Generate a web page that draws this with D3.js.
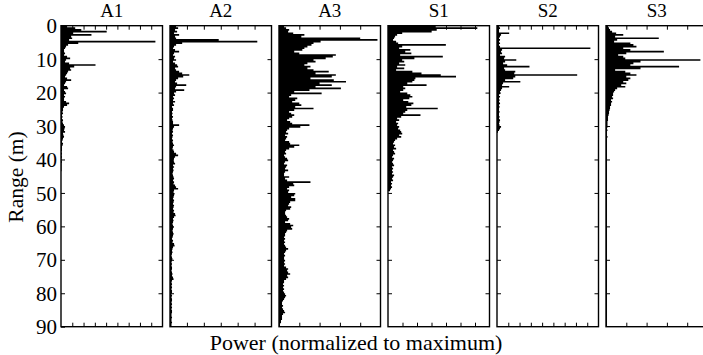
<!DOCTYPE html>
<html>
<head>
<meta charset="utf-8">
<script src="https://cdn.jsdelivr.net/npm/d3@7"></script>
<style>
  body { margin: 0; background: #fff; }
  svg { display: block; }
  text { font-family: "Liberation Serif", "Times New Roman", serif; fill: #000; }
</style>
</head>
<body>
<svg id="chart" width="703" height="355"></svg>
<script>
// Panel names and number of (unlabelled) power tick intervals per panel
const panelNames = ["A1", "A2", "A3", "S1", "S2", "S3"];
const powerTickIntervals = [9, 6, 5, 7, 9, 5];

// Range axis
const rangeStep = 0.5;                      // m per range bin
const rangeTicks = [0, 10, 20, 30, 40, 50, 60, 70, 80, 90];

// Power profiles, % of full scale, one value per 0.5 m range bin starting at 0 m
const powerA1 = [6,14,20,45,12,30,10,11,8,93,17,7,5,4,3,3,4,3,6,9,
  5,4,8,34,13,9,10,7,6,5,4,6,10,5,4,3,6,7,3,4,
  5,3,4,3,3,5,8,6,3,2,2,1.5,2,1,1.5,1,2,1.5,2,3,
  4,3.5,3,4,2,2.5,3,2,1.5,1,2,1.5,1,1,1,0.5,1,0.5,1,0.5,
  0.5,1,0.5,0.5,0.5,0.5,0.5];

const powerA2 = [6,8,5,7,4,9,5,6,48,86,12,6,4,3,5,9,4,3,5,4,
  6,3,5,7,8,5,6,9,12,19,13,8,6,5,7,16,6,5,14,6,
  4,5,3,4,3,5,3,4,2,3,3,2,2.5,2,3,2,2.5,3,3,9,
  4,3,2.5,3,2,3,2.5,2,3,2.5,3,4,3,2.5,3.5,4,6,8,5,4,
  3.5,4,5,3,4,3,3.5,3,2.5,3,3.5,4,3,4,3.5,5,6,8,4,3.5,
  4.5,4,3.5,3,4,3.5,3,4,3.5,3,4,3.5,5,5.5,4,3,3.5,3,2.5,3,
  3.5,3,2.5,3,3.5,3,2.5,2,3,2.5,4,4.5,3,2.5,2,2.5,2,1.5,2,2.5,
  2,1.5,2,1.5,2,2,1.5,2,2.5,2,3,3.5,2,1.5,2,1.5,2,1.5,2,2,
  1.5,2,1.5,2,2,1.5,2,1.5,2,1.5,2,2,1.5,1.5,2,1.5,1.5,2,1.5,1.5];

const powerA3 = [5,7,10,9,14,25,22,80,97,41,34,32,28,25,23,15,20,56,53,46,
  34,36,28,25,31,28,34,49,36,56,52,31,54,66,40,52,36,61,30,15,
  42,12,10,18,16,13,20,22,16,34,15,10,12,15,13,10,8,11,13,30,
  21,10,8,7,9,6,8,7,6,10,11,20,15,10,7,6,7,5,6,8,
  9,6,5,8,7,6,9,6,5,5,10,6,8,31,14,15,10,8,10,9,
  16,15,12,16,16,11,10,9,12,11,7,6,6,7,8,10,9,6,11,14,
  12,13,8,7,6,6,5,6,5,6,5,6,7,9,7,6,5,6,5,5,
  6,5,6,5,7,9,8,9,11,8,9,7,5,5,4,5,4,5,4,5,
  6,7,6,5,4,3,3,4,3,4,5,6,4,3,3,3,2,2,1,1];

const powerS1 = [47,88,48,43,14,9,7,6,5,8,10,57,14,11,22,17,23,12,54,26,
  14,16,11,17,9,16,8,24,33,52,67,27,26,24,19,38,15,17,15,12,
  19,22,24,21,15,20,25,23,18,49,19,17,15,32,13,9,11,8,10,9,
  11,10,12,13,14,11,13,9,7,6,5,7,6,8,5,6,7,5,4,6,
  5,4,5,6,4,5,4,5,4,6,5,4,5,3,4,3,4,3,2];

const powerS2 = [2,3,2,2,12,4,3,2,3,2,3,2,3,92,5,4,5,3,8,7,
  19,8,6,10,32,7,8,18,17,79,18,16,8,23,6,5,12,5,4,3,
  3,2,3,2,2.5,2,3,2,2.5,2,2,2.5,2,2,2.5,2,3,2.5,2,2.5,
  4,3,2,1];

const powerS3 = [2,3,4,6,10,17,9,52,11,8,24,27,30,17,24,57,20,12,17,19,
  93,34,27,24,72,34,9,19,24,30,20,24,22,17,20,15,19,11,9,8,
  7,7,6,7,5,6,5,5,4,4,3.5,3,3,2.5,2,2,2,1.5,1.5,1.5,
  1.5,1,1.5,1,1,1,1.5,1,1,1,1,1,1,1,1,1,1,1,1,1,
  1,1,1,1,1,1,1,1,1,1,1,1,1,1,1,1,1,1,1,1,
  1,1,1,1,1,1,1,1,1,1,1,1,1,1,1,1,1,1,1,1,
  1,1,1,1,1,1,1,1,1,1,1,1,1,1,1,1,1,1,1,1,
  1,1,1,1,1,1,1,1,1,1,1,1,1,1,1,1,1,1,1,1,
  1,1,1,1,1,1,1,1,1,1,1,1,1,1,1,1,1,1,1,1];

const profiles = [powerA1, powerA2, powerA3, powerS1, powerS2, powerS3];

// Layout
const svg = d3.select("#chart");
const plotTop = 25.7, plotBottom = 326.7;
const firstLeft = 61, panelW = 101.5, panelStep = 109;
const tickLen = 4;

const y = d3.scaleLinear().domain([0, 90]).range([plotTop, plotBottom]);
const innerRangeTicks = rangeTicks.slice(1, -1);

profiles.forEach((vals, i) => {
  const left = firstLeft + i * panelStep;
  const x = d3.scaleLinear().domain([0, 100]).range([left, left + panelW]);
  const n = powerTickIntervals[i];
  const powerTicks = d3.range(1, n).map(k => 100 * k / n);
  const g = svg.append("g");

  // Profile as a step-filled area, one step per range bin
  const pts = vals.map((v, k) => ({ r: k * rangeStep, v }));
  pts.push({ r: vals.length * rangeStep, v: vals[vals.length - 1] });
  const area = d3.area()
    .curve(d3.curveStepBefore)
    .y(d => y(d.r))
    .x0(x(0))
    .x1(d => x(d.v));
  g.append("path").datum(pts).attr("d", area).attr("fill", "#000");

  const styleAxis = sel => {
    sel.select(".domain").remove();
    sel.selectAll(".tick line").attr("stroke", "#000").attr("stroke-width", 1);
    sel.attr("font-family", null).attr("font-size", null);
  };

  // Left range axis (labelled on the first panel only)
  g.append("g")
    .attr("transform", `translate(${left},0)`)
    .call(d3.axisLeft(y)
      .tickValues(i === 0 ? rangeTicks : innerRangeTicks)
      .tickSize(-tickLen)
      .tickPadding(4)
      .tickFormat(i === 0 ? d3.format("d") : () => ""))
    .call(styleAxis)
    .selectAll("text").attr("font-size", 21).attr("dy", "0.34em");

  // Right range ticks
  g.append("g")
    .attr("transform", `translate(${left + panelW},0)`)
    .call(d3.axisRight(y).tickValues(innerRangeTicks).tickSize(-tickLen).tickFormat(() => ""))
    .call(styleAxis);

  // Top and bottom power ticks
  g.append("g")
    .attr("transform", `translate(0,${plotTop})`)
    .call(d3.axisTop(x).tickValues(powerTicks).tickSize(-tickLen).tickFormat(() => ""))
    .call(styleAxis);
  g.append("g")
    .attr("transform", `translate(0,${plotBottom})`)
    .call(d3.axisBottom(x).tickValues(powerTicks).tickSize(-tickLen).tickFormat(() => ""))
    .call(styleAxis);

  // Panel frame
  g.append("rect")
    .attr("x", left).attr("y", plotTop)
    .attr("width", panelW).attr("height", plotBottom - plotTop)
    .attr("fill", "none").attr("stroke", "#000").attr("stroke-width", 1.4);

  // Panel title
  g.append("text")
    .attr("x", left + panelW / 2).attr("y", 17)
    .attr("text-anchor", "middle")
    .attr("font-size", 19)
    .text(panelNames[i]);
});

// Axis titles
svg.append("text")
  .attr("x", 356).attr("y", 350)
  .attr("text-anchor", "middle")
  .attr("font-size", 22)
  .text("Power (normalized to maximum)");

svg.append("text")
  .attr("transform", "translate(23,177) rotate(-90)")
  .attr("text-anchor", "middle")
  .attr("font-size", 21.5)
  .text("Range (m)");
</script>
</body>
</html>
